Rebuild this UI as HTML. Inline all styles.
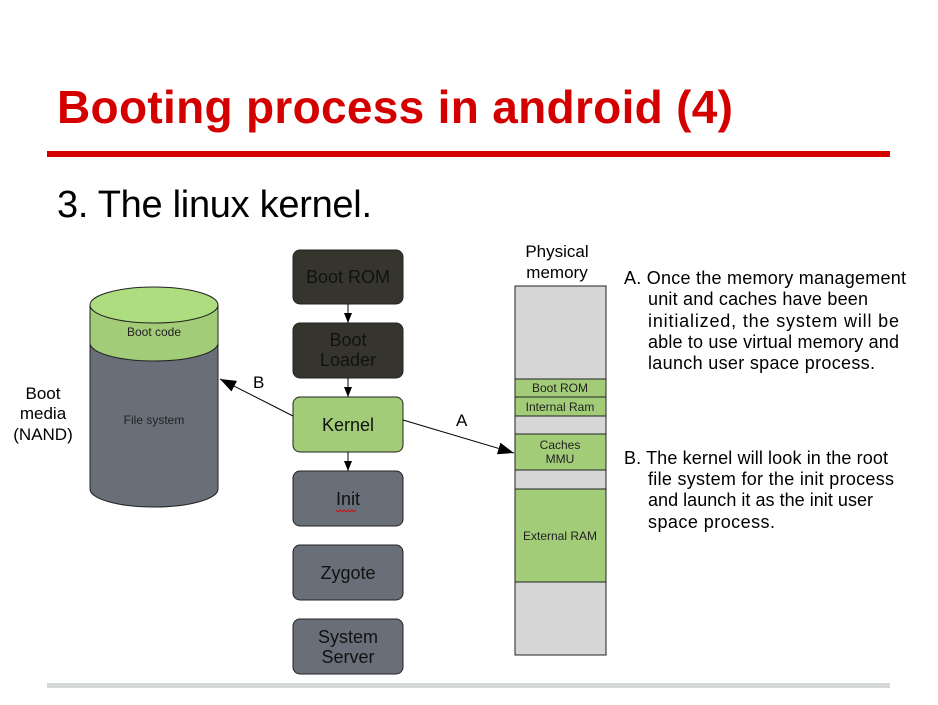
<!DOCTYPE html>
<html><head><meta charset="utf-8"><style>
body{margin:0;background:#fff;width:938px;height:700px;overflow:hidden;font-family:"Liberation Sans",Arial,sans-serif}
</style></head><body>
<svg width="938" height="700" xmlns="http://www.w3.org/2000/svg" font-family="Liberation Sans, Arial, sans-serif">
<defs><marker id="ar" markerWidth="10" markerHeight="8" refX="10" refY="4" orient="auto" markerUnits="userSpaceOnUse"><path d="M0,0 L10,4 L0,8 z" fill="#000"/></marker>
<marker id="ar2" markerWidth="16" markerHeight="12" refX="16" refY="6" orient="auto" markerUnits="userSpaceOnUse"><path d="M0,0 L16,6 L0,12 z" fill="#000"/></marker></defs>
<text x="57" y="123" font-size="46" font-weight="bold" fill="#d40000" textLength="676">Booting process in android (4)</text>
<rect x="47" y="151" width="843" height="6" fill="#d40000"/>
<text x="57" y="217" font-size="38" fill="#000" textLength="315">3. The linux kernel.</text>
<rect x="47" y="683" width="843" height="5" fill="#d6d9d9"/>
<!-- cylinder -->
<path d="M90,305 L90,489 A64,18 0 0 0 218,489 L218,305 Z" fill="#696f78" stroke="#222" stroke-width="1"/>
<path d="M90,305 L90,343 A64,18 0 0 0 218,343 L218,305 Z" fill="#a3cc78" stroke="#222" stroke-width="1"/>
<ellipse cx="154" cy="305" rx="64" ry="18" fill="#aedd80" stroke="#222" stroke-width="1"/>
<text x="154" y="336" font-size="12" text-anchor="middle" fill="#222">Boot code</text>
<text x="154" y="424" font-size="12" text-anchor="middle" fill="#222">File system</text>
<text x="43" y="399" font-size="17" text-anchor="middle">Boot</text>
<text x="43" y="419" font-size="17" text-anchor="middle">media</text>
<text x="43" y="440" font-size="17" text-anchor="middle">(NAND)</text>
<!-- boxes -->
<g stroke="#222" stroke-width="1">
<rect x="293" y="250" width="110" height="54" rx="7" fill="#36352d"/>
<rect x="293" y="323" width="110" height="55" rx="7" fill="#36352d"/>
<rect x="293" y="397" width="110" height="55" rx="7" fill="#a3cc78"/>
<rect x="293" y="471" width="110" height="55" rx="7" fill="#696f78"/>
<rect x="293" y="545" width="110" height="55" rx="7" fill="#696f78"/>
<rect x="293" y="619" width="110" height="55" rx="7" fill="#696f78"/>
</g>
<g font-size="18" text-anchor="middle" fill="#111">
<text x="348" y="283">Boot ROM</text>
<text x="348" y="346">Boot</text><text x="348" y="366">Loader</text>
<text x="348" y="431">Kernel</text>
<text x="348" y="505">Init</text>
<text x="348" y="579">Zygote</text>
<text x="348" y="643">System</text><text x="348" y="663">Server</text>
</g>
<path d="M336,510 q2,3 4,0 q2,3 4,0 q2,3 4,0 q2,3 4,0 q2,3 4,0" stroke="#d00" fill="none" stroke-width="1"/>
<g stroke="#000" stroke-width="1">
<line x1="348" y1="304" x2="348" y2="323" marker-end="url(#ar)"/>
<line x1="348" y1="378" x2="348" y2="397" marker-end="url(#ar)"/>
<line x1="348" y1="452" x2="348" y2="471" marker-end="url(#ar)"/>
<line x1="293" y1="416" x2="220" y2="379" marker-end="url(#ar2)"/>
<line x1="403" y1="420" x2="514" y2="453" marker-end="url(#ar2)"/>
</g>
<text x="253" y="388" font-size="17">B</text>
<text x="456" y="426" font-size="17">A</text>
<!-- memory -->
<text x="557" y="257" font-size="17" text-anchor="middle">Physical</text>
<text x="557" y="278" font-size="17" text-anchor="middle">memory</text>
<g stroke="#222" stroke-width="1">
<rect x="515" y="286" width="91" height="369" fill="#d6d6d6"/>
<rect x="515" y="379" width="91" height="18" fill="#a3cc78"/>
<rect x="515" y="397" width="91" height="19" fill="#a3cc78"/>
<rect x="515" y="434" width="91" height="36" fill="#a3cc78"/>
<rect x="515" y="489" width="91" height="93" fill="#a3cc78"/>
</g>
<g font-size="12" text-anchor="middle" fill="#222">
<text x="560" y="392">Boot ROM</text>
<text x="560" y="411">Internal Ram</text>
<text x="560" y="449">Caches</text><text x="560" y="463">MMU</text>
<text x="560" y="540">External RAM</text>
</g>
<g font-size="18" fill="#000">
<text x="624" y="284" textLength="282">A. Once the memory management</text>
<text x="648" y="305" textLength="220">unit and caches have been</text>
<text x="648" y="327" textLength="251">initialized, the system will be</text>
<text x="648" y="348" textLength="251">able to use virtual memory and</text>
<text x="648" y="369" textLength="227">launch user space process.</text>
<text x="624" y="464" textLength="264">B. The kernel will look in the root</text>
<text x="648" y="485" textLength="246">file system for the init process</text>
<text x="648" y="506" textLength="225">and launch it as the init user</text>
<text x="648" y="528" textLength="127">space process.</text>
</g>
</svg>
</body></html>
